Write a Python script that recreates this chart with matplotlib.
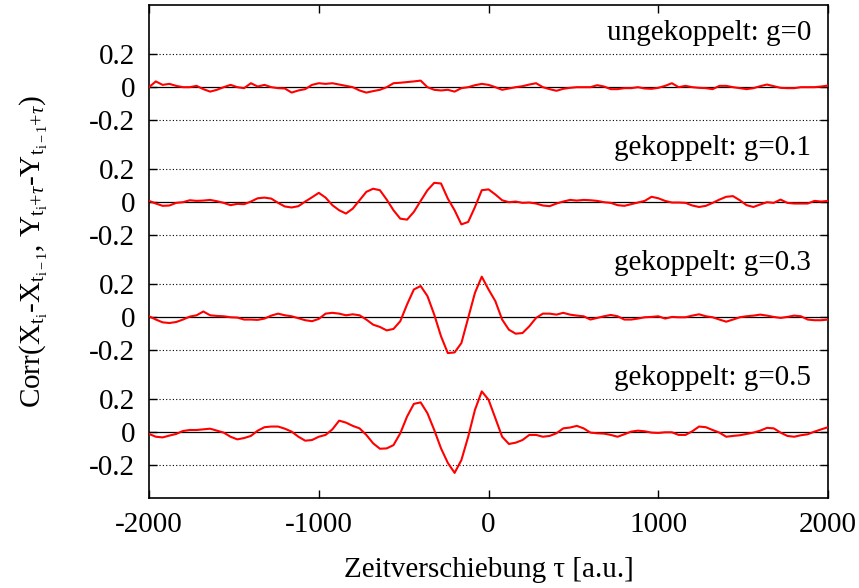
import numpy as np
import matplotlib
matplotlib.use("Agg")
import matplotlib.pyplot as plt

plt.rcParams['font.family'] = ['Liberation Serif', 'DejaVu Serif']
plt.rcParams['mathtext.fontset'] = 'custom'
plt.rcParams['mathtext.rm'] = 'Liberation Serif'
plt.rcParams['mathtext.it'] = 'Liberation Serif:italic'

# time shift grid (a.u.)
tau = np.arange(-2000, 2001, 40)

# correlation curves, one per coupling
corr_g0 = [
    0.0, 0.035, 0.014, 0.02, 0.008, 0.0, 0.0, 0.008, -0.012, -0.027,
    -0.016, 0.0, 0.014, 0.0, -0.006, 0.024, 0.004, 0.014, 0.0, -0.006,
    -0.008, -0.033, -0.02, -0.012, 0.014, 0.024, 0.02, 0.024, 0.016, 0.008,
    0.0, -0.02, -0.033, -0.024, -0.016, 0.0, 0.024, 0.027, 0.031, 0.035,
    0.04, 0.0, -0.016, -0.02, -0.016, -0.027, -0.006, 0.0, 0.012, 0.02,
    0.014, 0.0, -0.016, -0.008, 0.0, 0.006, 0.016, 0.024, 0.0, -0.012,
    -0.022, -0.01, -0.004, 0.0, 0.0, 0.0, 0.012, 0.004, -0.012, -0.012,
    -0.006, -0.006, 0.0, -0.008, -0.01, -0.004, 0.008, 0.024, 0.0, 0.008,
    0.0, -0.004, -0.006, -0.012, 0.008, 0.008, 0.0, -0.006, -0.012, -0.006,
    0.006, 0.016, 0.006, -0.004, -0.006, -0.006, 0.0, 0.0, 0.0, 0.004,
    0.01,
]
corr_g01 = [
    0.008, -0.008, -0.022, -0.02, -0.004, 0.0, 0.012, 0.008, 0.01, 0.014,
    0.006, -0.004, -0.018, -0.01, -0.012, 0.004, 0.024, 0.028, 0.022, -0.004,
    -0.026, -0.032, -0.024, 0.004, 0.03, 0.057, 0.028, -0.018, -0.049, -0.069,
    -0.039, 0.012, 0.063, 0.082, 0.073, 0.016, -0.049, -0.1, -0.106, -0.059,
    0.008, 0.073, 0.118, 0.114, 0.022, -0.049, -0.135, -0.12, -0.029, 0.073,
    0.078, 0.047, 0.012, 0.0, 0.004, -0.004, -0.002, -0.008, -0.02, -0.024,
    -0.008, 0.004, 0.014, 0.01, 0.014, 0.012, 0.008, 0.0, -0.004, -0.018,
    -0.022, -0.012, -0.002, 0.008, 0.033, 0.024, 0.008, -0.002, -0.002, -0.004,
    -0.02, -0.029, -0.022, -0.004, 0.016, 0.033, 0.037, 0.012, -0.018, -0.029,
    -0.014, 0.0, -0.004, 0.016, -0.004, -0.008, -0.008, -0.008, 0.008, 0.004,
    0.008,
]
corr_g03 = [
    0.006, -0.014, -0.031, -0.035, -0.029, -0.014, 0.004, 0.012, 0.035, 0.012,
    0.008, 0.006, 0.0, -0.002, -0.014, -0.014, -0.016, -0.008, 0.01, 0.022,
    0.012, 0.006, -0.006, -0.018, -0.024, -0.01, 0.022, 0.027, 0.022, 0.012,
    0.018, 0.012, -0.014, -0.045, -0.059, -0.08, -0.071, -0.024, 0.078, 0.169,
    0.19, 0.129, 0.016, -0.116, -0.218, -0.214, -0.157, -0.004, 0.149, 0.247,
    0.169, 0.098, -0.014, -0.076, -0.1, -0.096, -0.055, -0.004, 0.022, 0.022,
    0.016, 0.027, 0.016, 0.01, 0.006, -0.014, -0.004, 0.006, 0.014, 0.006,
    -0.014, -0.014, -0.008, 0.0, 0.002, 0.006, -0.008, 0.002, 0.0, 0.0,
    0.01, 0.018, 0.006, 0.0, -0.014, -0.027, -0.014, 0.0, 0.006, 0.01,
    0.016, 0.01, 0.002, -0.004, 0.002, 0.01, 0.006, -0.014, -0.018, -0.018,
    -0.014,
]
corr_g05 = [
    -0.01, -0.027, -0.031, -0.02, -0.01, 0.008, 0.014, 0.014, 0.018, 0.022,
    0.01, -0.002, -0.027, -0.043, -0.035, -0.022, 0.01, 0.031, 0.035, 0.035,
    0.022, 0.004, -0.027, -0.051, -0.047, -0.027, -0.016, 0.018, 0.071, 0.059,
    0.039, 0.024, -0.016, -0.067, -0.1, -0.098, -0.078, -0.006, 0.096, 0.173,
    0.182, 0.116, 0.014, -0.098, -0.186, -0.247, -0.169, -0.027, 0.137, 0.249,
    0.198, 0.086, -0.027, -0.071, -0.063, -0.047, -0.016, -0.016, -0.027, -0.022,
    -0.006, 0.024, 0.029, 0.039, 0.024, -0.002, -0.006, -0.008, -0.016, -0.027,
    -0.012, 0.004, 0.01, 0.006, -0.002, -0.004, 0.0, 0.0, -0.016, -0.016,
    0.006, 0.035, 0.031, 0.014, -0.002, -0.027, -0.022, -0.018, -0.01, -0.002,
    0.01, 0.027, 0.024, -0.002, -0.022, -0.027, -0.018, -0.012, 0.004, 0.018,
    0.031,
]

curves = [corr_g0, corr_g01, corr_g03, corr_g05]
labels = ['ungekoppelt: g=0', 'gekoppelt: g=0.1', 'gekoppelt: g=0.3', 'gekoppelt: g=0.5']
offsets = [0.0, -0.7, -1.4, -2.1]

fig = plt.figure(figsize=(8.59, 5.88), dpi=100)
ax = fig.add_axes([0.1735, 0.153, 0.7905, 0.8385])

yticks = []
yticklabels = []
for vals, lab, off in zip(curves, labels, offsets):
    ax.axhline(off + 0.2, color='black', lw=0.8, ls=(0, (1, 2)), zorder=1)
    ax.axhline(off - 0.2, color='black', lw=0.8, ls=(0, (1, 2)), zorder=1)
    ax.axhline(off, color='black', lw=0.9, zorder=2)
    ax.plot(tau, np.array(vals) + off, color='#ff0000', lw=1.5, zorder=3)
    ax.text(1900, off + 0.33, lab, ha='right', va='center', fontsize=21)
    yticks += [off + 0.2, off, off - 0.2]
    yticklabels += ['0.2', '0', '-0.2']

ax.set_xlim(-2000, 2000)
ax.set_ylim(-2.5, 0.5)
ax.set_xticks([-2000, -1000, 0, 1000, 2000])
ax.set_xticklabels(['-2000', '-1000', '0', '1000', '2000'])
ax.set_yticks(yticks)
ax.set_yticklabels(yticklabels)
ax.tick_params(direction='in', top=True, right=True, length=6, width=1,
               labelsize=21, pad=10)

for sp in ax.spines.values():
    sp.set_linewidth(1.2)

ax.set_xlabel('Zeitverschiebung τ [a.u.]', fontsize=21, labelpad=14)
ax.set_ylabel(r'Corr(X$_{\mathrm{t}_{\mathrm{i}}}$-X$_{\mathrm{t}_{\mathrm{i-1}}}$, '
              r'Y$_{\mathrm{t}_{\mathrm{i}}\mathrm{+}\tau}$-Y$_{\mathrm{t}_{\mathrm{i-1}}\mathrm{+}\tau}$)',
              fontsize=21, labelpad=28)

fig.savefig('out.png', dpi=100)
